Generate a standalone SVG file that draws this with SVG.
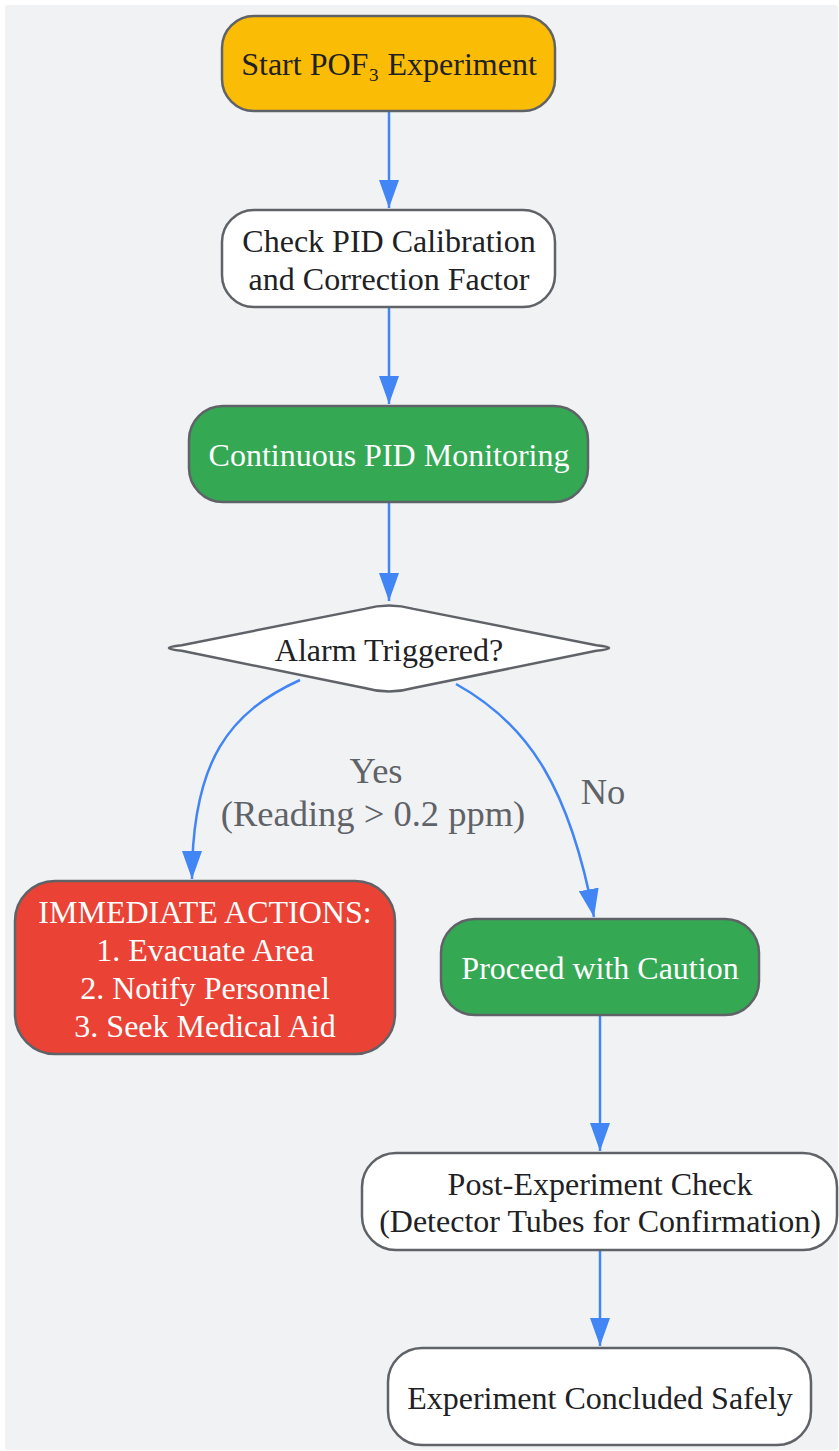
<svg xmlns="http://www.w3.org/2000/svg" width="839" height="1451" viewBox="0 0 839 1451">
<defs>
<style>
.bg{fill:#f1f2f4}
.node{stroke:#5f6368;stroke-width:2.5}
.white{fill:#ffffff}
.yellow{fill:#fbbc05}
.green{fill:#34a853}
.red{fill:#ea4335}
.t{font-family:"Liberation Serif","Times New Roman",serif;font-size:32px;text-anchor:middle;dominant-baseline:central;fill:#202124}
.tw{fill:#ffffff}
.edge{fill:none;stroke:#4285f4;stroke-width:2.5}
.lbl{font-family:"Liberation Serif","Times New Roman",serif;font-size:36.5px;text-anchor:middle;dominant-baseline:central;fill:#5f6368}
</style>
<marker id="arrow" viewBox="0 0 28 20" refX="28" refY="10" markerWidth="28" markerHeight="20" orient="auto" markerUnits="userSpaceOnUse">
<path d="M0,0 L28,10 L0,20 Z" fill="#4285f4"/>
</marker>
</defs>
<rect class="bg" x="5" y="5" width="833" height="1445" rx="3"/>
<g id="connectors">
<path class="edge" d="M389,111 L389,208" marker-end="url(#arrow)"/>
<path class="edge" d="M389,307 L389,404" marker-end="url(#arrow)"/>
<path class="edge" d="M389,502 L389,601" marker-end="url(#arrow)"/>
<path class="edge" d="M300,680 C230,712 192,760 192,879" marker-end="url(#arrow)"/>
<path class="edge" d="M456,684 C530,725 570,790 594,917" marker-end="url(#arrow)"/>
<path class="edge" d="M600,1015 L600,1151" marker-end="url(#arrow)"/>
<path class="edge" d="M600,1250 L600,1346" marker-end="url(#arrow)"/>
<text class="lbl" x="376" y="770">Yes</text>
<text class="lbl" x="373" y="813">(Reading &gt; 0.2 ppm)</text>
<text class="lbl" x="603" y="791">No</text>
</g>
<g id="start">
<rect class="node yellow" x="222" y="16" width="333" height="95" rx="32"/>
<text class="t" x="389" y="64">Start POF₃ Experiment</text>
</g>
<g id="check">
<rect class="node white" x="222" y="210" width="333" height="97" rx="32"/>
<text class="t" x="389" y="241">Check PID Calibration</text>
<text class="t" x="389" y="279">and Correction Factor</text>
</g>
<g id="monitor">
<rect class="node green" x="189" y="406" width="399" height="96" rx="34"/>
<text class="t tw" x="389" y="455">Continuous PID Monitoring</text>
</g>
<g id="alarm">
<path class="node white" d="M364.5,608.9 Q389,602 413.5,608.9 L596.3,645.2 Q622,648 596.3,650.8 L413.5,688 Q389,695 364.5,688 L181.7,650.8 Q156,648 181.7,645.2 Z"/>
<text class="t" x="389" y="650">Alarm Triggered?</text>
</g>
<g id="immediate">
<rect class="node red" x="15" y="881" width="380" height="173" rx="40"/>
<text class="t tw" x="205" y="912">IMMEDIATE ACTIONS:</text>
<text class="t tw" x="205" y="950">1. Evacuate Area</text>
<text class="t tw" x="205" y="988">2. Notify Personnel</text>
<text class="t tw" x="205" y="1026">3. Seek Medical Aid</text>
</g>
<g id="proceed">
<rect class="node green" x="441" y="919" width="318" height="96" rx="34"/>
<text class="t tw" x="600" y="968">Proceed with Caution</text>
</g>
<g id="post">
<rect class="node white" x="362" y="1153" width="475" height="97" rx="34"/>
<text class="t" x="600" y="1184">Post-Experiment Check</text>
<text class="t" x="600" y="1221">(Detector Tubes for Confirmation)</text>
</g>
<g id="concluded">
<rect class="node white" x="388" y="1348" width="423" height="97" rx="34"/>
<text class="t" x="600" y="1398">Experiment Concluded Safely</text>
</g>
</svg>
